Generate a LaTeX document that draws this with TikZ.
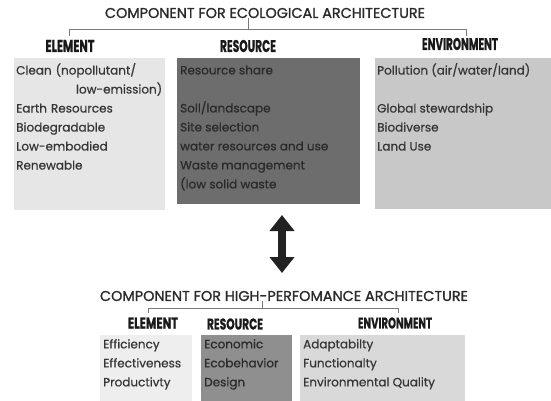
\documentclass[tikz,border=0pt]{standalone}
\usepackage{fontspec}
\setmainfont{Poppins}[FakeBold=0.6]
\newfontfamily\titlefont{Poppins}[FakeBold=1.2]
\newfontfamily\labfont{Poppins Bold}[FakeBold=1]
\usepackage{graphicx}
\usetikzlibrary{arrows.meta}
\definecolor{boxA}{HTML}{E6E6E6}
\definecolor{boxB}{HTML}{6D6D6D}
\definecolor{boxC}{HTML}{C8C8C8}
\definecolor{boxD}{HTML}{EEEEEE}
\definecolor{boxE}{HTML}{8F8F8F}
\definecolor{boxF}{HTML}{D9D9D9}
\definecolor{txt}{HTML}{363636}
\definecolor{txtdark}{HTML}{2A2A2A}
\definecolor{brk}{HTML}{7A7A7A}
\definecolor{arr}{HTML}{222222}
\begin{document}
\begin{tikzpicture}[x=1pt,y=-1pt,
  titlenode/.style={inner sep=0pt, text=txtdark, font=\titlefont},
  labnode/.style={inner sep=0pt, text=black!90, font=\labfont},
  boxnode/.style={anchor=north west, inner sep=0pt, draw=none, rectangle},
  boxtext/.style={anchor=north west, inner sep=0pt, align=left, text=txt,
    font=\fontsize{12}{19}\selectfont},
  bracket/.style={draw=brk, line width=1pt},
]
\useasboundingbox[fill=white] (0,0) rectangle (551,401);

% ---------- top group ----------
\node[titlenode] (t1) at (265,13) {\resizebox{320pt}{10pt}{COMPONENT FOR ECOLOGICAL ARCHITECTURE}};
\node[labnode] (lA) at (70,46) {\resizebox{49pt}{12pt}{ELEMENT}};
\node[labnode] (lB) at (248,46) {\resizebox{56pt}{12pt}{RESOURCE}};
\node[labnode] (lC) at (460,44) {\resizebox{76pt}{12pt}{ENVIRONMENT}};

\coordinate (tj) at (248,30);
\coordinate (tkA) at (69,36);
\coordinate (tkC) at (466,36);
\draw[bracket] (t1.south -| tj) -- (tj);
\draw[bracket] (tkA) -- (tkA |- tj) -- (tkC |- tj) -- (tkC);

\node[boxnode, fill=boxA, minimum width=151pt, minimum height=152pt] (bA) at (14,58) {};
\node[boxnode, fill=boxB, minimum width=183pt, minimum height=146pt] (bB) at (177,58) {};
\node[boxnode, fill=boxC, minimum width=176pt, minimum height=151pt] (bC) at (375,58) {};

\node[boxtext, text width=146pt] (xA) at ([shift={(2,5)}]bA.north west)
  {Clean (nopollutant/\\ \hspace*{\fill}low-emission)\\ Earth Resources\\ Biodegradable\\ Low-embodied\\ Renewable};
\node[boxtext, text=txtdark] (xB) at ([shift={(3,5)}]bB.north west)
  {\vphantom{(}Resource share\\[19pt] Soll/landscape\\ Site selection\\ water resources and use\\ Waste management\\ (low solid waste};
\node[boxtext] (xC) at ([shift={(2,5)}]bC.north west)
  {Pollution (air/water/land)\\[19pt] Global stewardship\\ Biodiverse\\ Land Use};

% ---------- arrow ----------
\coordinate (aT) at (282,215);
\coordinate (aB) at (282,273);
\draw[arr, line width=8pt, {Triangle[width=24pt,length=16pt]}-{Triangle[width=24pt,length=16pt]}] (aT) -- (aB);

% ---------- bottom group ----------
\node[titlenode] (t2) at (284,296) {\resizebox{368pt}{10pt}{COMPONENT FOR HIGH-PERFOMANCE ARCHITECTURE}};
\node[labnode] (mA) at (153,323) {\resizebox{50pt}{11pt}{ELEMENT}};
\node[labnode] (mB) at (235,324) {\resizebox{56pt}{11pt}{RESOURCE}};
\node[labnode] (mC) at (395,323) {\resizebox{74pt}{11pt}{ENVIRONMENT}};

\coordinate (bj) at (262,308);
\coordinate (bkA) at (148,313);
\coordinate (bkC) at (398,313);
\draw[bracket] (t2.south -| bj) -- (bj);
\draw[bracket] (bkA) -- (bkA |- bj) -- (bkC |- bj) -- (bkC);

\node[boxnode, fill=boxD, minimum width=92pt, minimum height=66pt] (bD) at (100,335) {};
\node[boxnode, fill=boxE, minimum width=91pt, minimum height=66pt] (bE) at (201,335) {};
\node[boxnode, fill=boxF, minimum width=165pt, minimum height=66pt] (bF) at (300,335) {};

\node[boxtext] (xD) at ([shift={(3,4)}]bD.north west)
  {Efficiency\\ Effectiveness\\ Productivty};
\node[boxtext, text=txtdark] (xE) at ([shift={(3,4)}]bE.north west)
  {Economic\\ Ecobehavior\\ Design};
\node[boxtext] (xF) at ([shift={(3,4)}]bF.north west)
  {Adaptabilty\\ Functionalty\\ Environmental Quality};
\end{tikzpicture}
\end{document}
